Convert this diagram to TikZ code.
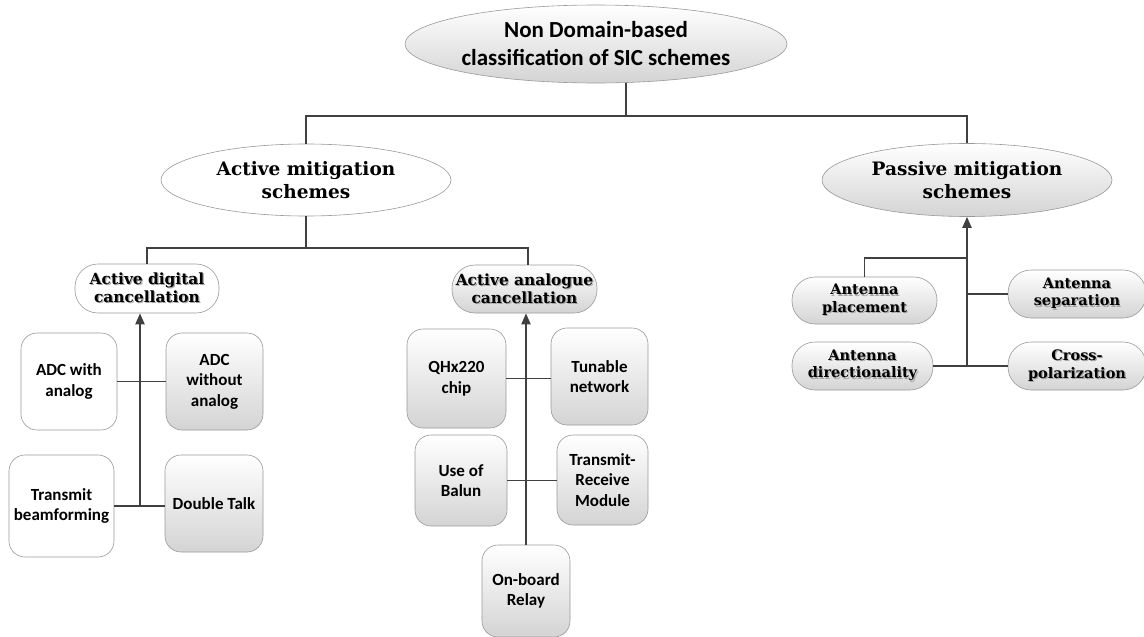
\documentclass[tikz,border=0pt]{standalone}
\usepackage{fontspec}
\setmainfont{DejaVu Serif}
\newfontfamily\sansf{Carlito}
\usetikzlibrary{shapes.geometric,arrows.meta}
\newcommand\shd[1]{\leavevmode\rlap{\hspace{1.2pt}\raisebox{-1.2pt}{\textcolor{black!35}{#1}}}#1}
\tikzset{
 ln/.style={draw=black!75, line width=1.3pt},
 arr/.style={draw=black!75, line width=2pt, -{Triangle[width=9pt,length=11pt]}},
 grad/.style={top color=white, bottom color=black!17},
 ell/.style={ellipse, draw=black!40, line width=0.6pt, inner sep=0pt, align=center},
 stad/.style={rectangle, rounded corners=23pt, draw=black!40, line width=0.6pt, inner sep=0pt, align=center, font=\bfseries\fontsize{14.5}{17.5}\selectfont},
 bigstad/.style={stad, font=\bfseries\fontsize{15.4}{18}\selectfont},
 sbox/.style={rectangle, rounded corners=16pt, draw=black!40, line width=0.6pt, inner sep=0pt, align=center, font=\sansf\bfseries\fontsize{17}{20.6}\selectfont},
}
\begin{document}
\begin{tikzpicture}[x=1pt,y=-1pt]
\useasboundingbox (0,0) rectangle (1144,637);
% top levels
\node[ell, grad, minimum width=382pt, minimum height=78pt, font=\sansf\bfseries\fontsize{23}{28}\selectfont] (root) at (596,44) {Non Domain-based\\classification of SIC schemes};
\node[ell, fill=white, minimum width=290pt, minimum height=72pt, font=\bfseries\fontsize{18.5}{23}\selectfont] (act) at (306,180) {Active mitigation\\schemes};
\node[ell, grad, minimum width=290pt, minimum height=73pt, font=\bfseries\fontsize{18.5}{23}\selectfont] (pas) at (967,180) {Passive mitigation\\schemes};
% second level
\node[bigstad, fill=white, minimum width=144pt, minimum height=49pt] (dig) at (147,288.5) {\shd{Active digital}\\\shd{cancellation}};
\node[bigstad, grad, minimum width=145pt, minimum height=48pt] (ana) at (524.5,289) {\shd{Active analogue}\\\shd{cancellation}};
% digital leaves
\node[sbox, fill=white, minimum width=96pt, minimum height=97pt] (adcw) at (69,381.5) {ADC with\\analog};
\node[sbox, grad, minimum width=97pt, minimum height=97pt] (adcwo) at (214.5,381.5) {ADC\\without\\analog};
\node[sbox, fill=white, minimum width=105pt, minimum height=102pt] (tb) at (61.5,506) {Transmit\\beamforming};
\node[sbox, grad, minimum width=98pt, minimum height=97pt] (dt) at (214,503.5) {Double Talk};
% analogue leaves
\node[sbox, grad, minimum width=99pt, minimum height=99pt] (qhx) at (456.5,378.5) {QHx220\\chip};
\node[sbox, grad, minimum width=97pt, minimum height=97pt] (tun) at (599.5,376.5) {Tunable\\network};
\node[sbox, grad, minimum width=92pt, minimum height=91pt] (bal) at (461,480.5) {Use of\\Balun};
\node[sbox, grad, minimum width=91pt, minimum height=90pt] (trm) at (602.5,480) {Transmit-\\Receive\\Module};
\node[sbox, grad, minimum width=88pt, minimum height=92pt] (onb) at (526,591) {On-board\\Relay};
% passive leaves
\node[stad, grad, minimum width=145pt, minimum height=47pt] (ap) at (864.5,300.5) {\shd{Antenna}\\\shd{placement}};
\node[stad, grad, minimum width=138pt, minimum height=48pt] (as) at (1077,294) {\shd{Antenna}\\\shd{separation}};
\node[stad, grad, minimum width=141pt, minimum height=48pt] (dir) at (862.5,366) {\shd{Antenna}\\\shd{directionality}};
\node[stad, grad, minimum width=138pt, minimum height=48pt] (cp) at (1077,366) {\shd{Cross-}\\\shd{polarization}};
% connectors top
\coordinate (rb) at (626,116);
\draw[ln] (root.south -| rb) -- (rb);
\draw[ln] (act.north) |- (rb) -| (pas.north);
\coordinate (ab) at (306,248);
\draw[ln] (act.south) -- (ab);
\draw[ln] (dig.north) |- (ab) -| ([xshift=3.5pt]ana.north);
% digital
\coordinate (dj) at (140,505);
\draw[ln] (adcw.east) -- (adcwo.west);
\draw[ln] (tb.east) -- (tb.east -| dt.west);
\draw[arr] (dj) -- (dj |- dig.south);
% analogue
\draw[ln] (qhx.east) -- (qhx.east -| tun.west);
\draw[ln] (bal.east) -- (bal.east -| trm.west);
\draw[arr] (onb.north) -- (onb.north |- ana.south);
% passive
\coordinate (pj) at (967,365);
\coordinate (pk) at (967,258);
\draw[ln] (dir.east) -- (cp.west);
\draw[ln] (as.west) -- (as.west -| pj);
\draw[ln] (ap.north) |- (pk);
\draw[arr] (pj) -- (pas.south);
\end{tikzpicture}
\end{document}
